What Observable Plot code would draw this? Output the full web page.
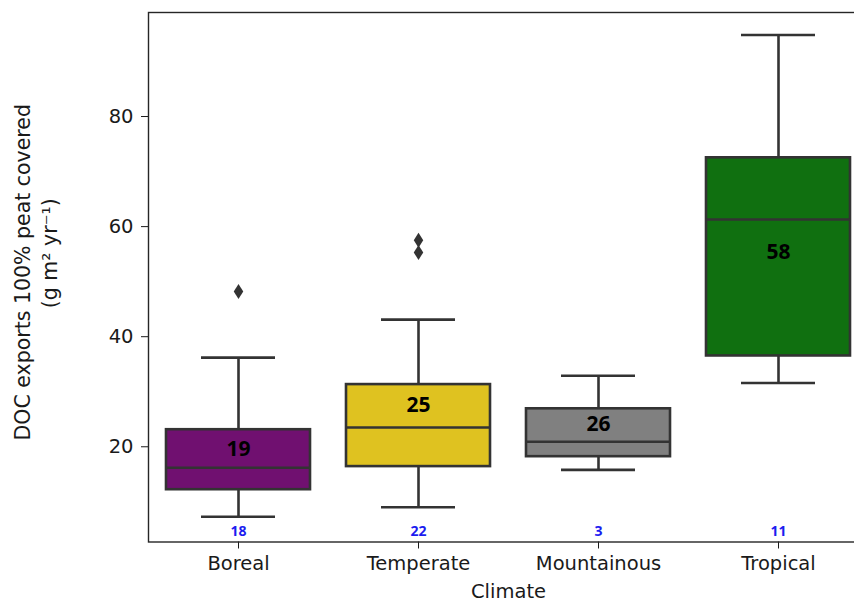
<!DOCTYPE html>
<html><head><meta charset="utf-8">
<script src="https://cdn.jsdelivr.net/npm/d3@7"></script>
<script src="https://cdn.jsdelivr.net/npm/@observablehq/plot@0.6"></script>
<style>
html,body{margin:0;padding:0;background:#fff;overflow:hidden;}
#chart svg{overflow:hidden;display:block;}
</style></head><body><div id="chart"></div>
<script>
// ---- data ----
const climates = ["Boreal", "Temperate", "Mountainous", "Tropical"];
const whiskerLow  = [7.3, 9.0, 15.8, 31.6];
const q1          = [12.2, 16.4, 18.2, 36.5];
const median      = [16.2, 23.5, 20.9, 61.3];
const q3          = [23.1, 31.3, 26.9, 72.5];
const whiskerHigh = [36.2, 43.1, 32.9, 94.8];
const meanLabel   = ["19", "25", "26", "58"];
const meanLabelY  = [19.5, 27.6, 24.0, 55.3];
const counts      = [18, 22, 3, 11];
const outlierClimate = ["Boreal", "Temperate", "Temperate"];
const outlierValue   = [48.2, 57.5, 55.3];
const boxColors   = ["#701070", "#dfc220", "#808080", "#107010"];
const yTicks      = [20, 40, 60, 80];

const rows = climates.map((c, i) => ({
  climate: c, lo: whiskerLow[i], q1: q1[i], med: median[i], q3: q3[i],
  hi: whiskerHigh[i], mean: meanLabel[i], meanY: meanLabelY[i], n: String(counts[i])
}));
const outliers = outlierClimate.map((c, i) => ({climate: c, value: outlierValue[i]}));

const edge = "#333333";
const lw = 2.6;
const thinDiamond = {
  draw(context, size) {
    const s = Math.sqrt(size / Math.PI);
    context.moveTo(0, -1.5 * s);
    context.lineTo(0.95 * s, 0);
    context.lineTo(0, 1.5 * s);
    context.lineTo(-0.95 * s, 0);
    context.closePath();
  }
};

const chart = Plot.plot({
  width: 854,
  height: 604,
  marginLeft: 148,
  marginRight: -14,
  marginTop: 12,
  marginBottom: 62.5,
  style: {fontFamily: "'DejaVu Sans', sans-serif", fontSize: "19.5px", color: "#1a1a1a", background: "#fff"},
  x: {domain: climates, padding: 0, tickSize: 7, tickPadding: 7, label: null},
  y: {domain: [2.7, 98.9], ticks: yTicks, tickSize: 7, tickPadding: 8, label: null},
  color: {domain: climates, range: boxColors},
  marks: [
    Plot.ruleX(rows, {x: "climate", y1: "lo", y2: "q1", stroke: edge, strokeWidth: lw}),
    Plot.ruleX(rows, {x: "climate", y1: "q3", y2: "hi", stroke: edge, strokeWidth: lw}),
    Plot.tickY(rows, {x: "climate", y: "lo", stroke: edge, strokeWidth: lw, insetLeft: 53, insetRight: 53}),
    Plot.tickY(rows, {x: "climate", y: "hi", stroke: edge, strokeWidth: lw, insetLeft: 53, insetRight: 53}),
    Plot.barY(rows, {x: "climate", y1: "q1", y2: "q3", fill: "climate", stroke: edge, strokeWidth: lw, insetLeft: 18, insetRight: 18}),
    Plot.tickY(rows, {x: "climate", y: "med", stroke: edge, strokeWidth: lw, insetLeft: 18, insetRight: 18}),
    Plot.dot(outliers, {x: "climate", y: "value", symbol: thinDiamond, r: 5, fill: edge, stroke: "none"}),
    Plot.text(rows, {x: "climate", y: "meanY", text: "mean", fontSize: 21, fontWeight: "bold",
      fontFamily: "'Liberation Sans Narrow', 'Open Sans', sans-serif", fill: "#000", lineAnchor: "middle"}),
    Plot.text(rows, {x: "climate", text: "n", frameAnchor: "bottom", dy: -10, fontSize: 14, fontWeight: "bold",
      fontFamily: "'Liberation Sans Narrow', 'Open Sans', sans-serif", fill: "#1c1cf0", lineAnchor: "middle"}),
    Plot.text(["Climate"], {frameAnchor: "bottom", dy: 50, text: d => d, fontSize: 19.5, fill: "#1a1a1a", lineAnchor: "middle"}),
    Plot.text(["DOC exports 100% peat covered"], {frameAnchor: "left", dx: -125, dy: -5, rotate: -90, text: d => d,
      fontSize: 20.5, fill: "#1a1a1a", textAnchor: "middle", lineAnchor: "middle"}),
    Plot.text(["(g m\u00B2 yr\u207B\u00B9)"], {frameAnchor: "left", dx: -98, dy: -24, rotate: -90, text: d => d,
      fontSize: 20.5, fill: "#1a1a1a", textAnchor: "middle", lineAnchor: "middle"}),
    Plot.frame({stroke: "#262626", strokeWidth: 1.4})
  ]
});
document.getElementById("chart").appendChild(chart);
</script>
</body></html>
